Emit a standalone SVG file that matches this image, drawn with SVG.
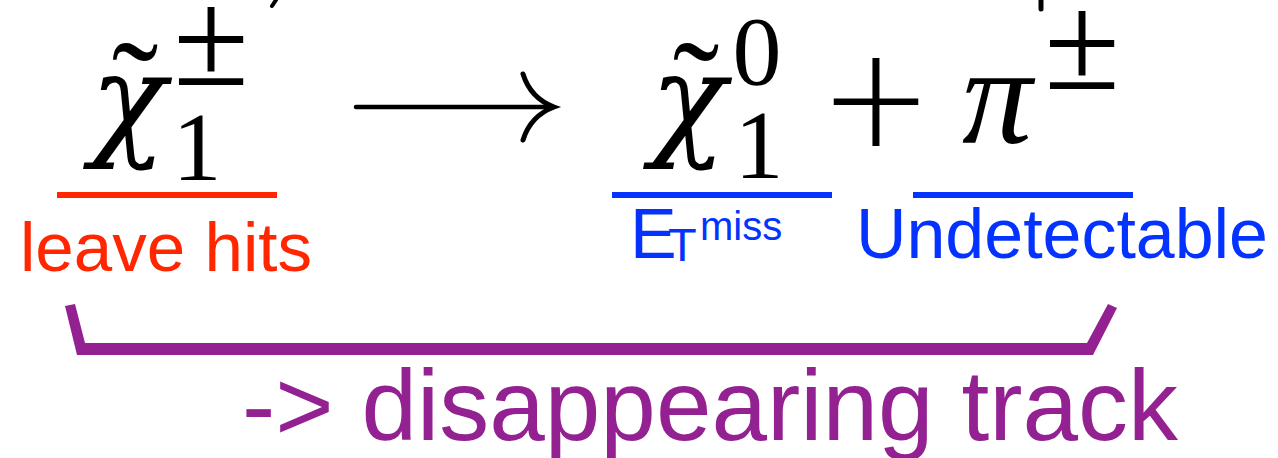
<svg xmlns="http://www.w3.org/2000/svg" width="1278" height="458" viewBox="0 0 1278 458">
<style>
.m{font-family:"Liberation Serif","Times New Roman",serif;fill:#000}
.g{font-family:"DejaVu Serif",serif;font-style:italic;fill:#000}
.i{font-style:italic}
.s{font-family:"Liberation Sans",Arial,sans-serif}
.red{fill:#FF2600}
.blue{fill:#0433FF}
.pur{fill:#942192}
.k{stroke:#000;fill:none;stroke-linecap:round}
</style>
<rect width="1278" height="458" fill="#fff"/>
<g id="top-fragments">
<path class="k" d="M276,0 L272,6" stroke-width="4"/>
<path class="k" d="M1041,0 V9" stroke-width="5"/>
</g>
<g id="chargino">
<text class="g" x="128" y="143" font-size="125" text-anchor="middle">χ</text>
<text class="m" x="135" y="137" font-size="140" text-anchor="middle">˜</text>
<text class="m" x="211" y="85" font-size="138" text-anchor="middle">±</text>
<text class="m" x="197" y="180" font-size="98" text-anchor="middle">1</text>
<rect class="red" x="57" y="192" width="220" height="6"/>
<text class="s red" x="20" y="271" font-size="68" textLength="292" lengthAdjust="spacingAndGlyphs">leave hits</text>
</g>
<g id="neutralino">
<text class="g" x="688" y="143" font-size="125" text-anchor="middle">χ</text>
<text class="m" x="696" y="137" font-size="140" text-anchor="middle">˜</text>
<text class="m" x="757" y="84" font-size="98" text-anchor="middle">0</text>
<text class="m" x="759" y="178" font-size="98" text-anchor="middle">1</text>
<rect class="blue" x="612" y="192" width="220" height="6"/>
<text class="s blue" font-size="70"><tspan x="630" y="258">E</tspan><tspan x="668" y="261" font-size="47">T</tspan><tspan x="700" y="240" font-size="40">miss</tspan></text>
</g>
<g id="plus">
<text x="876" y="162" font-family="Lato,'Liberation Sans',sans-serif" font-weight="300" font-size="180" text-anchor="middle" fill="#000">+</text>
</g>
<g id="pion">
<text class="m i" x="997" y="143" font-size="140" text-anchor="middle">π</text>
<text class="m" x="1082" y="89" font-size="138" text-anchor="middle">±</text>
<rect class="blue" x="913" y="192" width="220" height="6"/>
<text class="s blue" x="856" y="258" font-size="70" textLength="412" lengthAdjust="spacingAndGlyphs">Undetectable</text>
</g>
<g id="connectors">
<path class="k" d="M356,107 H550" stroke-width="4.5"/>
<path class="k" d="M523,74 C528,90 538,101 554,107 C538,113 528,124 523,140" stroke-width="5"/>
<polygon class="pur" points="65,306 75,304 85,343 1087,343 1108,304 1117,308 1093,355 77,355"/>
</g>
<g id="conclusion">
<text class="s pur" x="242" y="440" font-size="100" textLength="936" lengthAdjust="spacingAndGlyphs">-&gt; disappearing track</text>
</g>
</svg>
